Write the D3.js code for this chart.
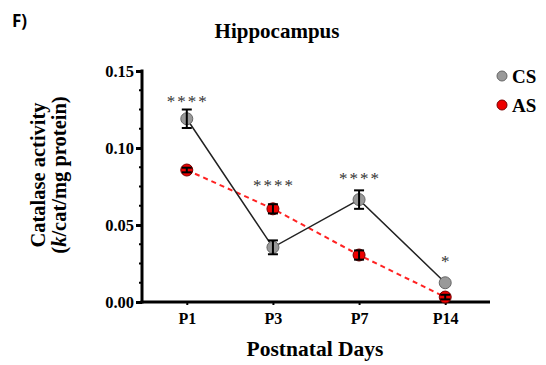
<!DOCTYPE html>
<html lang="en">
<head>
<meta charset="utf-8">
<title>Hippocampus catalase</title>
<script src="https://cdn.jsdelivr.net/npm/d3@7"></script>
<style>
  body { margin: 0; background: #fff; }
  text { font-family: "Liberation Serif", "Times New Roman", serif; }
</style>
</head>
<body>
<script>
// values
var days = ["P1", "P3", "P7", "P14"];
var csMean = [0.119, 0.0355, 0.0665, 0.0125];
var csErr  = [0.006, 0.0045, 0.006, 0];
var asMean = [0.0857, 0.0605, 0.0305, 0.0032];
var asErr  = [0.0015, 0.003, 0.003, 0.0015];
var stars  = ["****", "****", "****", "*"];
var starAt = [0.1327, 0.078, 0.0825, 0.0288];
var yTicks = [0.00, 0.05, 0.10, 0.15];

var width = 546, height = 365;
var svg = d3.select("body").append("svg")
    .attr("width", width)
    .attr("height", height);

// plot box (window.top is reserved, so use other names)
var plotL = 142, plotR = 490, plotT = 71, plotB = 302;

var x = d3.scalePoint().domain(days).range([plotL, plotR]).padding(0.52);
var y = d3.scaleLinear().domain([0, 0.15]).range([plotB, plotT]);

// panel letter + title
svg.append("text")
    .attr("x", 12).attr("y", 27)
    .style("font-family", "'Open Sans', 'DejaVu Sans', sans-serif")
    .style("font-weight", "bold")
    .style("font-size", "17px")
    .text("F)");

svg.append("text")
    .attr("x", 277).attr("y", 38)
    .attr("text-anchor", "middle")
    .style("font-weight", "bold")
    .style("font-size", "21px")
    .text("Hippocampus");

// y axis
var yAxis = d3.axisLeft(y).tickValues(yTicks).tickFormat(d3.format(".2f")).tickSize(6).tickSizeOuter(0);
var gy = svg.append("g").attr("transform", "translate(" + plotL + ",0)").call(yAxis);
gy.select(".domain").attr("stroke-width", 3).attr("d", "M0," + (plotB + 1.5) + "V" + (plotT - 1.5));
gy.selectAll(".tick line").attr("stroke-width", 3);
gy.selectAll(".tick text")
    .attr("x", -8)
    .style("font-family", "'Liberation Serif', serif")
    .style("font-weight", "bold")
    .style("font-size", "16.5px")
    .attr("fill", "#000");

// minor ticks
var minor = d3.range(0, 0.1501, 0.0125).filter(function(v) { return Math.abs(v / 0.05 - Math.round(v / 0.05)) > 0.01; });
svg.selectAll(".minor").data(minor).enter().append("line")
    .attr("x1", plotL - 3).attr("x2", plotL)
    .attr("y1", function(d) { return y(d); })
    .attr("y2", function(d) { return y(d); })
    .attr("stroke", "#000").attr("stroke-width", 2);

// x axis
var xAxis = d3.axisBottom(x).tickSize(3).tickSizeOuter(0);
var gx = svg.append("g").attr("transform", "translate(0," + plotB + ")").call(xAxis);
gx.select(".domain").attr("stroke-width", 3).attr("d", "M" + (plotL - 1.5) + ",0H" + plotR);
gx.selectAll(".tick line").attr("stroke-width", 2);
gx.selectAll(".tick text")
    .attr("y", 11)
    .style("font-family", "'Liberation Serif', serif")
    .style("font-weight", "bold")
    .style("font-size", "16px")
    .attr("fill", "#000");

// axis titles
svg.append("text")
    .attr("x", 315).attr("y", 356)
    .attr("text-anchor", "middle")
    .style("font-weight", "bold")
    .style("font-size", "21.5px")
    .text("Postnatal Days");

var ylab = svg.append("g").attr("transform", "translate(0,175) rotate(-90)");
ylab.append("text")
    .attr("x", 0).attr("y", 45)
    .attr("text-anchor", "middle")
    .style("font-weight", "bold")
    .style("font-size", "20.5px")
    .text("Catalase activity");
var l2 = ylab.append("text")
    .attr("x", 0).attr("y", 66)
    .attr("text-anchor", "middle")
    .style("font-weight", "bold")
    .style("font-size", "20.5px");
l2.append("tspan").text("(");
l2.append("tspan").style("font-style", "italic").text("k");
l2.append("tspan").text("/cat/mg protein)");

// lines
var line = d3.line().x(function(d, i) { return x(days[i]); }).y(function(d) { return y(d); });
svg.append("path").datum(asMean)
    .attr("d", line).attr("fill", "none")
    .attr("stroke", "#f22").attr("stroke-width", 2).attr("stroke-dasharray", "5,4");
svg.append("path").datum(csMean)
    .attr("d", line).attr("fill", "none")
    .attr("stroke", "#222").attr("stroke-width", 1.5);

function errBars(mean, err) {
    var g = svg.append("g");
    days.forEach(function(d, i) {
        if (!err[i]) return;
        var cx = x(d), y1 = y(mean[i] + err[i]), y2 = y(mean[i] - err[i]);
        g.append("line").attr("x1", cx).attr("x2", cx).attr("y1", y1).attr("y2", y2)
            .attr("stroke", "#000").attr("stroke-width", 2);
        [y1, y2].forEach(function(yy) {
            g.append("line").attr("x1", cx - 5).attr("x2", cx + 5).attr("y1", yy).attr("y2", yy)
                .attr("stroke", "#000").attr("stroke-width", 2);
        });
    });
}

function dots(mean, fill, stroke) {
    svg.append("g").selectAll("circle").data(mean).enter().append("circle")
        .attr("cx", function(d, i) { return x(days[i]); })
        .attr("cy", function(d) { return y(d); })
        .attr("r", 6)
        .attr("fill", fill).attr("stroke", stroke).attr("stroke-width", 1);
}

dots(csMean, "#999", "#666");
errBars(csMean, csErr);
dots(asMean, "#e00", "#700");
errBars(asMean, asErr);

// significance stars
svg.selectAll(".star").data(stars).enter().append("text")
    .attr("x", function(d, i) { return x(days[i]) + 1; })
    .attr("y", function(d, i) { return y(starAt[i]) + 9; })
    .attr("text-anchor", "middle")
    .style("font-size", "17px")
    .style("letter-spacing", "2px")
    .attr("fill", "#333")
    .text(function(d) { return d; });

// legend
var legend = [["CS", "#999", "#666"], ["AS", "#e00", "#700"]];
legend.forEach(function(l, i) {
    var ly = 76 + i * 29;
    svg.append("circle").attr("cx", 502).attr("cy", ly).attr("r", 5)
        .attr("fill", l[1]).attr("stroke", l[2]);
    svg.append("text").attr("x", 512).attr("y", ly + 6.5)
        .style("font-weight", "bold").style("font-size", "19px")
        .text(l[0]);
});
</script>
</body>
</html>
